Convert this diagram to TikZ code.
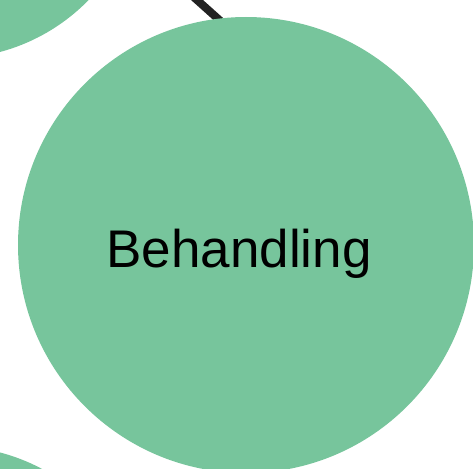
\documentclass[tikz,border=0pt]{standalone}
\usepackage{fontspec}
\setmainfont{Liberation Sans}
\definecolor{nodegreen}{HTML}{77C59C}
\definecolor{edgedark}{HTML}{222222}
\tikzset{
  bubble/.style={circle, fill=nodegreen, draw=none, inner sep=0pt},
  link/.style={draw=edgedark, line width=8pt},
  lbl/.style={font=\fontsize{53}{58}\selectfont, text=black, inner sep=0pt, anchor=base}
}
\begin{document}
\begin{tikzpicture}[x=1pt,y=-1pt]
\useasboundingbox (0,0) rectangle (473,468);
\begin{scope}
\clip (0,0) rectangle (473,468);
\coordinate (ext) at (140,-51);
\coordinate (hit) at (254,51);
\node[bubble, minimum size=387pt] (tl) at (-50,-135) {};
\node[bubble, minimum size=392pt] (bl) at (-50,642) {};
\draw[link] (ext) -- (hit);
\node[bubble, minimum size=456pt] (main) at (246,245) {};
\node[lbl] (t) at (239,267) {Behandling};
\end{scope}
\end{tikzpicture}
\end{document}
